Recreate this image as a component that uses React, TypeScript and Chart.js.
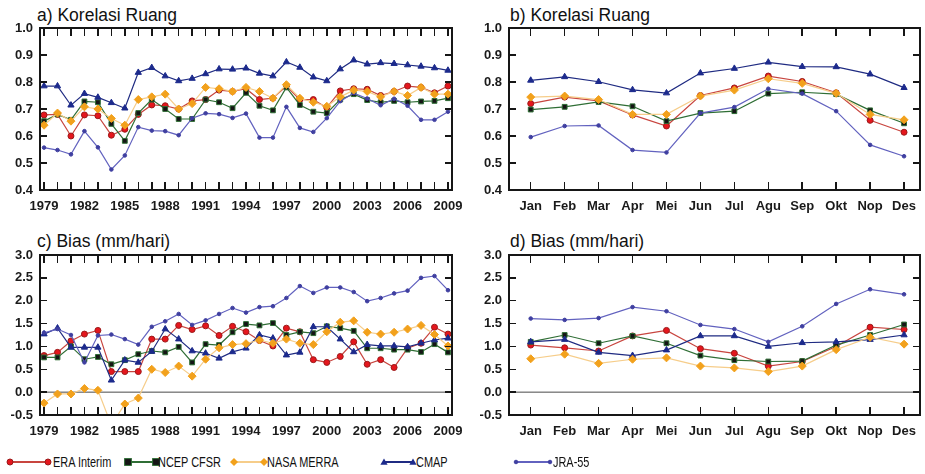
import React, { useEffect, useRef, useState } from 'react';
import { Chart, registerables } from 'chart.js';

Chart.register(...registerables);

const FONT = "'Liberation Sans', Arial, Helvetica, sans-serif";

// ---------- categories / ticks ----------
const years = [1979, 1980, 1981, 1982, 1983, 1984, 1985, 1986, 1987, 1988, 1989, 1990, 1991, 1992, 1993, 1994, 1995, 1996, 1997, 1998, 1999, 2000, 2001, 2002, 2003, 2004, 2005, 2006, 2007, 2008, 2009];
const yearTickLabels = [1979, 1982, 1985, 1988, 1991, 1994, 1997, 2000, 2003, 2006, 2009];
const monthNames = ['Jan', 'Feb', 'Mar', 'Apr', 'Mei', 'Jun', 'Jul', 'Agu', 'Sep', 'Okt', 'Nop', 'Des'];
const monthPos = [1, 2, 3, 4, 5, 6, 7, 8, 9, 10, 11, 12];
const corrTicks = [0.4, 0.5, 0.6, 0.7, 0.8, 0.9, 1.0];
const biasTicks = [-0.5, 0.0, 0.5, 1.0, 1.5, 2.0, 2.5, 3.0];

// ---------- a) Korelasi Ruang (yearly) ----------
const corrYearERA = [0.678, 0.68, 0.60, 0.678, 0.675, 0.603, 0.625, 0.68, 0.715, 0.712, 0.70, 0.73, 0.735, 0.77, 0.765, 0.775, 0.735, 0.74, 0.785, 0.735, 0.735, 0.705, 0.767, 0.775, 0.773, 0.75, 0.765, 0.785, 0.78, 0.76, 0.785];
const corrYearNCEP = [0.655, 0.68, 0.66, 0.728, 0.725, 0.645, 0.582, 0.685, 0.735, 0.70, 0.663, 0.663, 0.735, 0.725, 0.703, 0.76, 0.712, 0.695, 0.78, 0.715, 0.69, 0.685, 0.735, 0.755, 0.733, 0.725, 0.73, 0.725, 0.728, 0.73, 0.74];
const corrYearMERRA = [0.64, 0.685, 0.655, 0.708, 0.70, 0.665, 0.64, 0.735, 0.745, 0.755, 0.70, 0.72, 0.78, 0.775, 0.765, 0.78, 0.765, 0.74, 0.79, 0.74, 0.725, 0.71, 0.745, 0.77, 0.765, 0.745, 0.765, 0.75, 0.78, 0.755, 0.755];
const corrYearCMAP = [0.785, 0.785, 0.714, 0.757, 0.743, 0.723, 0.703, 0.835, 0.853, 0.822, 0.804, 0.813, 0.83, 0.848, 0.847, 0.851, 0.832, 0.822, 0.874, 0.854, 0.818, 0.804, 0.848, 0.881, 0.866, 0.871, 0.868, 0.863, 0.858, 0.852, 0.843];
const corrYearJRA = [0.557, 0.548, 0.532, 0.618, 0.558, 0.476, 0.528, 0.633, 0.620, 0.618, 0.603, 0.666, 0.684, 0.681, 0.667, 0.683, 0.594, 0.594, 0.708, 0.630, 0.615, 0.666, 0.729, 0.759, 0.739, 0.714, 0.738, 0.712, 0.660, 0.660, 0.690];

// ---------- b) Korelasi Ruang (monthly) ----------
const corrMonERA = [0.72, 0.744, 0.73, 0.678, 0.637, 0.75, 0.778, 0.822, 0.802, 0.76, 0.658, 0.614];
const corrMonNCEP = [0.698, 0.708, 0.726, 0.71, 0.655, 0.685, 0.692, 0.757, 0.762, 0.755, 0.695, 0.647];
const corrMonMERRA = [0.744, 0.748, 0.735, 0.68, 0.68, 0.748, 0.77, 0.812, 0.795, 0.758, 0.68, 0.66];
const corrMonCMAP = [0.806, 0.819, 0.801, 0.771, 0.759, 0.833, 0.85, 0.873, 0.857, 0.856, 0.829, 0.779];
const corrMonJRA = [0.596, 0.637, 0.639, 0.548, 0.539, 0.685, 0.707, 0.775, 0.757, 0.692, 0.567, 0.525];

// ---------- c) Bias (yearly) ----------
const biasYearERA = [0.80, 0.87, 1.12, 1.27, 1.35, 0.45, 0.45, 0.45, 1.16, 1.16, 1.46, 1.37, 1.45, 1.24, 1.44, 1.32, 1.13, 1.01, 1.40, 1.32, 0.71, 0.65, 0.78, 1.10, 0.61, 0.71, 0.54, 0.96, 1.07, 1.42, 1.27];
const biasYearNCEP = [0.76, 0.76, 1.0, 0.72, 0.77, 0.61, 0.70, 0.83, 0.90, 0.87, 0.99, 0.65, 1.05, 1.03, 1.31, 1.49, 1.46, 1.51, 1.25, 1.32, 1.29, 1.44, 1.40, 1.34, 0.96, 0.96, 0.93, 0.93, 0.88, 1.05, 0.87];
const biasYearMERRA = [-0.24, -0.04, -0.04, 0.08, 0.04, -0.72, -0.26, -0.13, 0.50, 0.43, 0.57, 0.35, 0.72, 0.97, 1.04, 1.06, 1.14, 1.07, 1.16, 1.07, 1.04, 1.32, 1.53, 1.56, 1.31, 1.27, 1.31, 1.38, 1.46, 1.26, 1.01];
const biasYearCMAP = [1.27, 1.40, 0.98, 0.98, 0.98, 0.26, 0.70, 0.65, 0.89, 1.38, 1.16, 0.90, 0.85, 0.74, 0.88, 0.96, 1.25, 1.18, 0.81, 0.87, 1.43, 1.43, 1.16, 0.88, 1.04, 1.01, 1.01, 0.99, 1.07, 1.14, 1.18];
const biasYearJRA = [1.30, 1.38, 1.25, 0.65, 1.24, 1.26, 1.16, 1.04, 1.43, 1.55, 1.71, 1.47, 1.57, 1.71, 1.84, 1.74, 1.86, 1.88, 2.06, 2.32, 2.17, 2.29, 2.29, 2.19, 1.99, 2.06, 2.16, 2.22, 2.50, 2.54, 2.23];

// ---------- d) Bias (monthly) ----------
const biasMonERA = [1.03, 0.97, 0.90, 1.23, 1.35, 0.95, 0.85, 0.57, 0.67, 1.00, 1.42, 1.37];
const biasMonNCEP = [1.10, 1.25, 1.07, 1.23, 1.07, 0.80, 0.70, 0.67, 0.68, 1.03, 1.25, 1.48];
const biasMonMERRA = [0.73, 0.83, 0.63, 0.72, 0.75, 0.57, 0.53, 0.45, 0.57, 0.93, 1.20, 1.05];
const biasMonCMAP = [1.10, 1.15, 0.87, 0.80, 0.92, 1.23, 1.23, 1.00, 1.08, 1.10, 1.15, 1.25];
const biasMonJRA = [1.61, 1.58, 1.62, 1.86, 1.77, 1.47, 1.38, 1.10, 1.44, 1.93, 2.25, 2.14];

// ---------- series styles ----------
const STYLES = {
  ERA: { name: 'ERA Interim', line: '#c8453f', fill: '#e5161d', edge: '#9a1a1a', shape: 'circle', r: 3 },
  NCEP: { name: 'NCEP CFSR', line: '#2f6e35', fill: '#151515', edge: '#2f6e35', shape: 'rect', r: 3.4 },
  MERRA: { name: 'NASA MERRA', line: '#f6cd8a', fill: '#f2a11c', edge: '#f2a11c', shape: 'rectRot', r: 4 },
  CMAP: { name: 'CMAP', line: '#1f2b82', fill: '#1c2a8c', edge: '#1c2a8c', shape: 'triangle', r: 3.6 },
  JRA: { name: 'JRA-55', line: '#6262bf', fill: '#3f3fa0', edge: '#3f3fa0', shape: 'circle', r: 1.8 },
};
const ORDER = ['MERRA', 'JRA', 'CMAP', 'NCEP', 'ERA'];

function makeDatasets(xs: number[], series: Record<string, number[]>) {
  return ORDER.map((k) => {
    const s = (STYLES as any)[k];
    return {
      label: s.name,
      data: xs.map((x, i) => ({ x, y: series[k][i] })),
      borderColor: s.line,
      borderWidth: 1.2,
      backgroundColor: s.fill,
      pointBackgroundColor: s.fill,
      pointBorderColor: s.edge,
      pointBorderWidth: 1,
      pointStyle: s.shape,
      pointRadius: s.r,
      tension: 0,
      fill: false,
    };
  });
}

const X_TICK = 8;
const Y_TICK = 7;
const FRAME = '#161616';

function makeZeroPlugin(zero: boolean) {
  return {
    id: 'zeroLine',
    beforeDatasetsDraw(chart: any) {
      if (!zero) return;
      const ctx = chart.ctx;
      const a = chart.chartArea;
      const y0 = chart.scales.y.getPixelForValue(0);
      ctx.save();
      ctx.strokeStyle = '#4a4a4a';
      ctx.lineWidth = 1;
      ctx.beginPath();
      ctx.moveTo(a.left, y0);
      ctx.lineTo(a.right, y0);
      ctx.stroke();
      ctx.restore();
    },
  };
}

type PanelProps = {
  left: number; top: number; width: number; height: number;
  area: { l: number; t: number; r: number; b: number };
  xs: number[]; xLabel: (v: number) => string;
  xMin: number; xMax: number;
  yMin: number; yMax: number; yTicks: number[];
  series: Record<string, number[]>;
  zero: boolean;
};

type Overlay = { l: number; t: number; r: number; b: number; xt: number[]; yt: number[] };

function Panel(p: PanelProps) {
  const ref = useRef<HTMLCanvasElement>(null);
  const [ov, setOv] = useState<Overlay | null>(null);
  useEffect(() => {
    const labelFont = { family: FONT, size: 13, weight: 'bold' };
    const chart: any = new Chart(ref.current as HTMLCanvasElement, {
      type: 'line',
      data: { datasets: makeDatasets(p.xs, p.series) as any },
      plugins: [makeZeroPlugin(p.zero) as any],
      options: {
        animation: false,
        responsive: false,
        maintainAspectRatio: false,
        layout: { padding: { left: 0, top: p.area.t, right: p.width - p.area.r, bottom: 0 } },
        plugins: {
          legend: { display: false },
          tooltip: { enabled: false },
          title: { display: false },
        },
        scales: {
          x: {
            type: 'linear',
            position: 'bottom',
            min: p.xMin,
            max: p.xMax,
            grid: { display: false, drawTicks: false },
            border: { display: false },
            afterBuildTicks: (s: any) => { s.ticks = p.xs.map((v) => ({ value: v })); },
            afterFit: (s: any) => { s.height = p.height - p.area.b; s.paddingLeft = 0; s.paddingRight = 0; },
            ticks: {
              autoSkip: false,
              maxRotation: 0,
              padding: 9,
              color: '#1a1a1a',
              font: labelFont,
              callback: (v: any) => p.xLabel(Number(v)),
            },
          },
          y: {
            type: 'linear',
            position: 'left',
            min: p.yMin,
            max: p.yMax,
            grid: { display: false, drawTicks: false },
            border: { display: false },
            afterBuildTicks: (s: any) => { s.ticks = p.yTicks.map((v) => ({ value: v })); },
            afterFit: (s: any) => { s.width = p.area.l; s.paddingTop = 0; s.paddingBottom = 0; },
            ticks: {
              padding: 7,
              color: '#1a1a1a',
              font: labelFont,
              callback: (v: any) => Number(v).toFixed(1),
            },
          },
        },
      } as any,
    });
    // frame and inward tick marks placed from the chart's own scales
    const a = chart.chartArea || { left: p.area.l, top: p.area.t, right: p.area.r, bottom: p.area.b };
    const sx = chart.scales && chart.scales.x;
    const sy = chart.scales && chart.scales.y;
    const fx = (v: number) => (sx && sx.getPixelForValue ? sx.getPixelForValue(v) : a.left + ((v - p.xMin) / (p.xMax - p.xMin)) * (a.right - a.left));
    const fy = (v: number) => (sy && sy.getPixelForValue ? sy.getPixelForValue(v) : a.bottom - ((v - p.yMin) / (p.yMax - p.yMin)) * (a.bottom - a.top));
    setOv({ l: a.left, t: a.top, r: a.right, b: a.bottom, xt: p.xs.map(fx), yt: p.yTicks.map(fy) });
    return () => chart.destroy();
  }, []);
  const tw = 1.5;
  return (
    <div style={{ position: 'absolute', left: p.left, top: p.top, width: p.width, height: p.height }}>
      <canvas
        ref={ref}
        width={p.width}
        height={p.height}
        style={{ position: 'absolute', left: 0, top: 0, width: p.width, height: p.height }}
      />
      {ov && (
        <div style={{ position: 'absolute', left: 0, top: 0, width: p.width, height: p.height, pointerEvents: 'none' }}>
          <div style={{ position: 'absolute', boxSizing: 'border-box', left: ov.l - 1, top: ov.t - 1, width: ov.r - ov.l + 2, height: ov.b - ov.t + 2, border: `2px solid ${FRAME}` }} />
          {ov.xt.map((x, i) => (
            <React.Fragment key={'x' + i}>
              <div style={{ position: 'absolute', left: x - tw / 2, top: ov.b - X_TICK, width: tw, height: X_TICK, background: FRAME }} />
              <div style={{ position: 'absolute', left: x - tw / 2, top: ov.t, width: tw, height: X_TICK, background: FRAME }} />
            </React.Fragment>
          ))}
          {ov.yt.map((y, i) => (
            <React.Fragment key={'y' + i}>
              <div style={{ position: 'absolute', left: ov.l, top: y - tw / 2, width: Y_TICK, height: tw, background: FRAME }} />
              <div style={{ position: 'absolute', left: ov.r - Y_TICK, top: y - tw / 2, width: Y_TICK, height: tw, background: FRAME }} />
            </React.Fragment>
          ))}
        </div>
      )}
    </div>
  );
}

function Marker({ kind }: { kind: string }) {
  const s = (STYLES as any)[kind];
  let shape: any;
  if (s.shape === 'circle') shape = <circle cx={5} cy={5} r={s.r} fill={s.fill} stroke={s.edge} strokeWidth={1} />;
  else if (s.shape === 'rect') shape = <rect x={5 - s.r} y={5 - s.r} width={2 * s.r} height={2 * s.r} fill={s.fill} stroke={s.edge} strokeWidth={1} />;
  else if (s.shape === 'rectRot') shape = <polygon points={`5,${5 - s.r} ${5 + s.r},5 5,${5 + s.r} ${5 - s.r},5`} fill={s.fill} />;
  else shape = <polygon points={`5,${5 - s.r} ${5 + s.r},${5 + s.r * 0.75} ${5 - s.r},${5 + s.r * 0.75}`} fill={s.fill} />;
  return <svg width={10} height={10} style={{ position: 'absolute', left: -5, top: -5, overflow: 'visible' }}>{shape}</svg>;
}

const legendItems = [
  { k: 'ERA', a: 10, b: 48, t: 53 },
  { k: 'NCEP', a: 128, b: 156, t: 158 },
  { k: 'MERRA', a: 234, b: 264, t: 267 },
  { k: 'CMAP', a: 384, b: 413, t: 416 },
  { k: 'JRA', a: 516, b: 550, t: 553 },
];

function Legend() {
  const yc = 462;
  return (
    <>
      {legendItems.map((it) => {
        const s = (STYLES as any)[it.k];
        return (
          <React.Fragment key={it.k}>
            <div style={{ position: 'absolute', left: it.a, top: yc - 0.6, width: it.b - it.a, height: 1.2, background: s.line }} />
            <div style={{ position: 'absolute', left: it.a, top: yc }}><Marker kind={it.k} /></div>
            <div style={{ position: 'absolute', left: it.b, top: yc }}><Marker kind={it.k} /></div>
            <div style={{ position: 'absolute', left: it.t, top: yc - 8, fontFamily: FONT, fontSize: 14, lineHeight: '16px', color: '#111', whiteSpace: 'nowrap', transform: 'scaleX(0.78)', transformOrigin: 'left center' }}>{s.name}</div>
          </React.Fragment>
        );
      })}
    </>
  );
}

const titleStyle: React.CSSProperties = { position: 'absolute', fontFamily: FONT, fontSize: 17.5, lineHeight: '18px', color: '#111', whiteSpace: 'nowrap' };

export default function App() {
  const yearLabel = (v: number) => (yearTickLabels.includes(v) ? String(v) : '');
  const monLabel = (v: number) => monthNames[v - 1] ?? '';
  return (
    <div style={{ position: 'absolute', left: 0, top: 0, width: 925, height: 474, background: '#fff', overflow: 'hidden' }}>
      <div style={{ ...titleStyle, left: 37, top: 6 }}>a) Korelasi Ruang</div>
      <div style={{ ...titleStyle, left: 510, top: 6 }}>b) Korelasi Ruang</div>
      <div style={{ ...titleStyle, left: 37, top: 232 }}>c) Bias (mm/hari)</div>
      <div style={{ ...titleStyle, left: 510, top: 232 }}>d) Bias (mm/hari)</div>
      <Panel left={0} top={0} width={462} height={224} area={{ l: 40, t: 28, r: 452, b: 190 }}
        xs={years} xLabel={yearLabel} xMin={1978.7} xMax={2009.3}
        yMin={0.4} yMax={1.0} yTicks={corrTicks}
        series={{ ERA: corrYearERA, NCEP: corrYearNCEP, MERRA: corrYearMERRA, CMAP: corrYearCMAP, JRA: corrYearJRA }} zero={false} />
      <Panel left={469} top={0} width={456} height={224} area={{ l: 40, t: 28, r: 455, b: 190 }}
        xs={monthPos} xLabel={monLabel} xMin={0.36} xMax={12.47}
        yMin={0.4} yMax={1.0} yTicks={corrTicks}
        series={{ ERA: corrMonERA, NCEP: corrMonNCEP, MERRA: corrMonMERRA, CMAP: corrMonCMAP, JRA: corrMonJRA }} zero={false} />
      <Panel left={0} top={225} width={462} height={225} area={{ l: 40, t: 30, r: 452, b: 190 }}
        xs={years} xLabel={yearLabel} xMin={1978.7} xMax={2009.3}
        yMin={-0.5} yMax={3.0} yTicks={biasTicks}
        series={{ ERA: biasYearERA, NCEP: biasYearNCEP, MERRA: biasYearMERRA, CMAP: biasYearCMAP, JRA: biasYearJRA }} zero={true} />
      <Panel left={469} top={225} width={456} height={225} area={{ l: 40, t: 30, r: 455, b: 190 }}
        xs={monthPos} xLabel={monLabel} xMin={0.36} xMax={12.47}
        yMin={-0.5} yMax={3.0} yTicks={biasTicks}
        series={{ ERA: biasMonERA, NCEP: biasMonNCEP, MERRA: biasMonMERRA, CMAP: biasMonCMAP, JRA: biasMonJRA }} zero={true} />
      <Legend />
    </div>
  );
}
